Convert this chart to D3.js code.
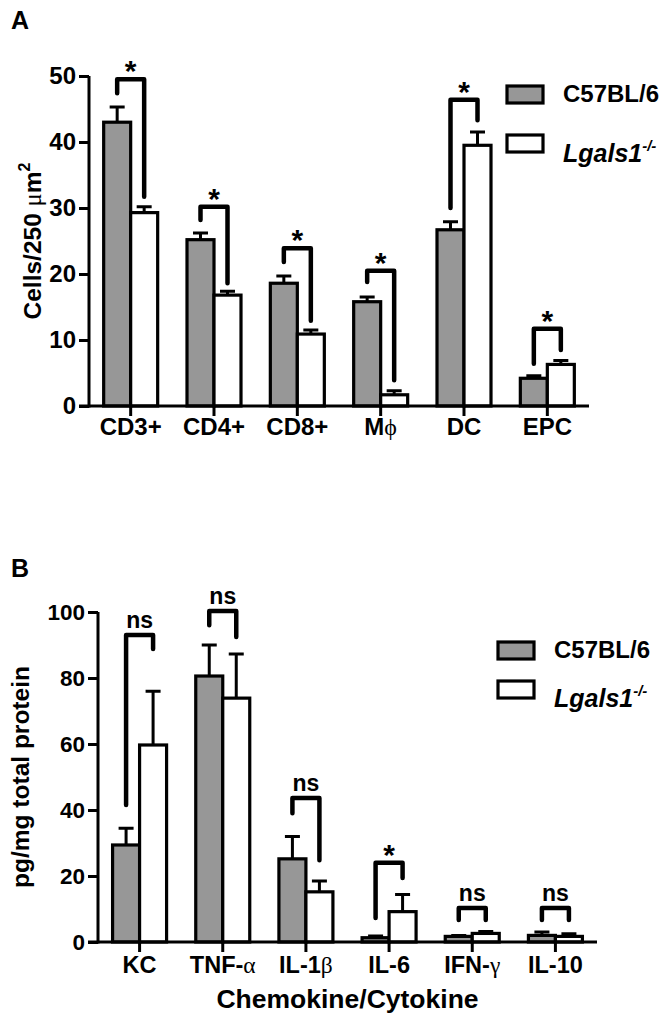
<!DOCTYPE html>
<html><head><meta charset="utf-8">
<script src="https://cdn.jsdelivr.net/npm/d3@7"></script>
<style>
body{margin:0;background:#fff}
svg{display:block}
text{font-family:"Liberation Sans",Arial,sans-serif;font-weight:bold;fill:#000}
</style>
</head><body>
<svg id="chart" width="671" height="1029"></svg>
<script>
// ---------- data ----------
const seriesNames = ["C57BL/6", "Lgals1"];

// Panel A
const categoriesA = ["CD3+", "CD4+", "CD8+", "Mϕ", "DC", "EPC"];
const wildTypeA   = [43.0, 25.2, 18.6, 15.8, 26.7, 4.2];
const wildTypeErrA= [2.3, 1.0, 1.1, 0.7, 1.2, 0.4];
const knockoutA   = [29.3, 16.8, 10.9, 1.7, 39.5, 6.3];
const knockoutErrA= [0.9, 0.6, 0.6, 0.6, 2.0, 0.6];
const signifA     = ["*", "*", "*", "*", "*", "*"];
const bracketTopA = [49.5, 30.2, 23.9, 20.5, 46.4, 11.7];
const bracketLA   = [47.4, 28.2, 21.8, 18.8, 30.0, 6.4];
const bracketRA   = [31.7, 18.6, 12.9, 3.9, 43.3, 8.5];
const ticksA      = [0, 10, 20, 30, 40, 50];

// Panel B
const categoriesB = ["KC", "TNF-α", "IL-1β", "IL-6", "IFN-γ", "IL-10"];
const wildTypeB   = [29.4, 80.6, 25.2, 1.3, 1.7, 2.0];
const wildTypeErrB= [5.1, 9.4, 6.8, 0.5, 0.3, 1.0];
const knockoutB   = [59.7, 73.9, 15.2, 9.2, 2.6, 1.7];
const knockoutErrB= [16.3, 13.4, 3.3, 5.2, 0.6, 0.8];
const signifB     = ["ns", "ns", "ns", "*", "ns", "ns"];
const bracketTopB = [93.0, 100.3, 43.6, 24.0, 10.3, 10.3];
const bracketLB   = [41.5, 96.0, 39.0, 7.3, 6.7, 6.7];
const bracketRB   = [88.8, 92.4, 24.8, 19.4, 6.7, 6.7];
const ticksB      = [0, 20, 40, 60, 80, 100];

// ---------- drawing ----------
const svg = d3.select("#chart");
const GRAY = "#979797";
const greekRe = /([αβγϕμ])/;

function richText(sel, str) {
  str.split(greekRe).filter(s => s.length).forEach(part => {
    const t = sel.append("tspan").text(part);
    if (greekRe.test(part)) {
      t.style("font-family", "'Liberation Serif','DejaVu Serif',serif")
       .style("font-weight", "normal");
    }
  });
}

function panel(cfg) {
  const g = svg.append("g");
  const x = d3.scaleBand().domain(cfg.cats).range([cfg.x0, cfg.x1]).paddingInner(0).paddingOuter(0);
  const y = d3.scaleLinear().domain([0, cfg.max]).range([cfg.y0, cfg.y1]);
  const bw = 27;

  const rows = cfg.cats.map((c, i) => ({c, i}));
  const series = [
    {vals: cfg.wt, errs: cfg.wtErr, fill: GRAY, off: -bw},
    {vals: cfg.ko, errs: cfg.koErr, fill: "#fff", off: 0}
  ];
  series.forEach(s => {
    g.selectAll(null).data(rows).enter().append("path")
      .attr("d", d => {
        const cx = x(d.c) + x.bandwidth() / 2 + s.off + bw / 2;
        const top = y(s.vals[d.i] + s.errs[d.i]);
        return `M${cx},${y(s.vals[d.i])}V${top}M${cx - 7.5},${top}H${cx + 7.5}`;
      })
      .attr("stroke", "#000").attr("stroke-width", 3).attr("fill", "none");
    g.selectAll(null).data(rows).enter().append("rect")
      .attr("x", d => x(d.c) + x.bandwidth() / 2 + s.off)
      .attr("width", bw)
      .attr("y", d => y(s.vals[d.i]))
      .attr("height", d => y(0) - y(s.vals[d.i]))
      .attr("fill", s.fill).attr("stroke", "#000").attr("stroke-width", 3.2);
  });

  g.selectAll(null).data(rows).enter().append("path")
    .attr("d", d => {
      const cx = x(d.c) + x.bandwidth() / 2;
      const lx = cx - bw / 2, rx = cx + bw / 2;
      return `M${lx},${y(cfg.bL[d.i])}V${y(cfg.bTop[d.i])}H${rx}V${y(cfg.bR[d.i])}`;
    })
    .attr("stroke", "#000").attr("stroke-width", 4.5).attr("fill", "none")
    .attr("stroke-linecap", "round").attr("stroke-linejoin", "round");
  g.selectAll(null).data(rows).enter().append("text")
    .attr("x", d => x(d.c) + x.bandwidth() / 2)
    .attr("y", d => y(cfg.bTop[d.i]) + (cfg.sig[d.i] === "*" ? 2 : -7))
    .attr("text-anchor", "middle")
    .style("font-size", d => cfg.sig[d.i] === "*" ? "30px" : "23px")
    .text(d => cfg.sig[d.i]);

  const ya = g.append("g").attr("transform", `translate(${cfg.x0},0)`)
    .call(d3.axisLeft(y).tickValues(cfg.ticks).tickSize(10).tickPadding(3).tickSizeOuter(0));
  ya.select(".domain").attr("stroke-width", 3).attr("d", `M0,${cfg.y0 + 1.5}V${cfg.y1}`);
  ya.selectAll(".tick line").attr("stroke-width", 3);
  ya.selectAll(".tick text").style("font-size", cfg.tickFont + "px")
    .style("font-family", "'Liberation Sans',Arial,sans-serif").style("font-weight", "bold");

  const xa = g.append("g").attr("transform", `translate(0,${cfg.y0})`)
    .call(d3.axisBottom(x).tickSize(10).tickSizeOuter(0).tickFormat(""));
  xa.select(".domain").attr("stroke-width", 3).attr("d", `M${cfg.x0 - 10},0H${cfg.x1}`);
  xa.selectAll(".tick line").attr("stroke-width", 3);
  g.selectAll(null).data(cfg.cats).enter().append("text")
    .attr("x", d => x(d) + x.bandwidth() / 2)
    .attr("y", cfg.labelY)
    .attr("text-anchor", "middle")
    .style("font-size", cfg.labelFont + "px")
    .each(function (d) { richText(d3.select(this), d); });

  g.append("text").attr("x", 11).attr("y", cfg.letterY).style("font-size", "25px").text(cfg.letter);

  const lg = g.append("g");
  [0, 1].forEach(k => {
    lg.append("rect").attr("x", cfg.legX).attr("y", cfg.legRectY[k]).attr("width", 36).attr("height", 17)
      .attr("fill", k === 0 ? GRAY : "#fff").attr("stroke", "#000").attr("stroke-width", 3.2);
  });
  lg.append("text").attr("x", cfg.legX + 56).attr("y", cfg.legTextY[0]).style("font-size", "24px").text(seriesNames[0]);
  const t2 = lg.append("text").attr("x", cfg.legX + 56).attr("y", cfg.legTextY[1]).style("font-size", "25px").style("font-style", "italic");
  t2.append("tspan").text(seriesNames[1]);
  t2.append("tspan").attr("dy", -11).style("font-size", "15px").text("-/-");

  return {g, x, y};
}

panel({
  cats: categoriesA, wt: wildTypeA, wtErr: wildTypeErrA, ko: knockoutA, koErr: knockoutErrA,
  sig: signifA, bTop: bracketTopA, bL: bracketLA, bR: bracketRA, ticks: ticksA, max: 50,
  x0: 89, x1: 589, y0: 406, y1: 76, tickFont: 24, labelFont: 24, labelY: 435,
  letter: "A", letterY: 29, legX: 507, legRectY: [86, 135], legTextY: [102, 162]
});
panel({
  cats: categoriesB, wt: wildTypeB, wtErr: wildTypeErrB, ko: knockoutB, koErr: knockoutErrB,
  sig: signifB, bTop: bracketTopB, bL: bracketLB, bR: bracketRB, ticks: ticksB, max: 100,
  x0: 98, x1: 597, y0: 942, y1: 612, tickFont: 22.5, labelFont: 23.5, labelY: 973,
  letter: "B", letterY: 577, legX: 498, legRectY: [642, 681], legTextY: [658, 707]
});

const tA = svg.append("text")
  .attr("transform", `translate(41,${(406 + 76) / 2}) rotate(-90)`)
  .attr("text-anchor", "middle").style("font-size", "24.5px");
tA.append("tspan").text("Cells/250 ");
tA.append("tspan").text("μ").style("font-family", "'Liberation Serif','DejaVu Serif',serif").style("font-weight", "normal");
tA.append("tspan").text("m");
tA.append("tspan").attr("dy", -11).style("font-size", "16px").text("2");

svg.append("text")
  .attr("transform", `translate(29,${(942 + 612) / 2}) rotate(-90)`)
  .attr("text-anchor", "middle").style("font-size", "24.5px")
  .text("pg/mg total protein");

svg.append("text").attr("x", (98 + 597) / 2).attr("y", 1008)
  .attr("text-anchor", "middle").style("font-size", "26.5px")
  .text("Chemokine/Cytokine");
</script>
</body></html>
